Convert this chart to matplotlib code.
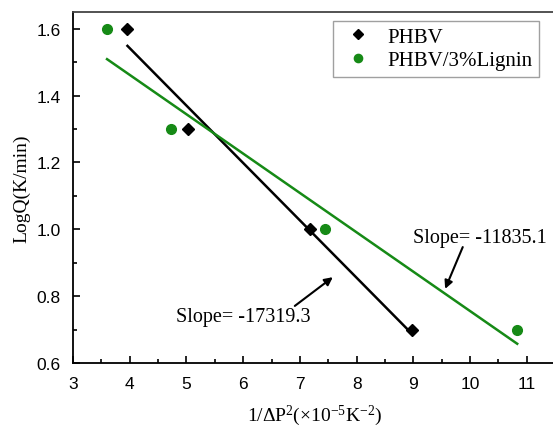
import numpy as np
import matplotlib
matplotlib.use("Agg")
import matplotlib.pyplot as plt
from matplotlib.ticker import MultipleLocator, FormatStrFormatter

# data
phbv_x = [3.96, 5.02, 7.18, 8.97]
phbv_y = [1.6, 1.3, 1.0, 0.7]
lig_x = [3.60, 4.73, 7.44, 10.83]
lig_y = [1.6, 1.3, 1.0, 0.7]
labels = ["PHBV", "PHBV/3%Lignin"]
slope_texts = ["Slope= -17319.3", "Slope= -11835.1"]

GREEN = "#168a16"
SERIF = "Liberation Serif"
plt.rcParams["mathtext.fontset"] = "custom"
plt.rcParams["mathtext.rm"] = SERIF
plt.rcParams["mathtext.it"] = SERIF

fig = plt.figure(figsize=(5.53, 4.35), dpi=100)
ax = fig.add_axes([0.132, 0.163, 0.872, 0.807])
ax.set_xlim(3, 11.5)
ax.set_ylim(0.6, 1.65)

# linear fits through the data, drawn over the data span
for xs, ys, c in [(phbv_x, phbv_y, "black"), (lig_x, lig_y, GREEN)]:
    k, b = np.polyfit(xs, ys, 1)
    xx = np.array([min(xs), max(xs)])
    ax.plot(xx, k * xx + b, color=c, lw=1.8, zorder=2)

ax.plot(phbv_x, phbv_y, "D", color="black", ms=6.5, ls="none", label=labels[0], zorder=3)
ax.plot(lig_x, lig_y, "o", color=GREEN, ms=7, ls="none", label=labels[1], zorder=3)

ax.xaxis.set_major_locator(MultipleLocator(1))
ax.xaxis.set_minor_locator(MultipleLocator(0.5))
ax.yaxis.set_major_locator(MultipleLocator(0.2))
ax.yaxis.set_minor_locator(MultipleLocator(0.1))
ax.yaxis.set_major_formatter(FormatStrFormatter("%.1f"))
ax.tick_params(which="both", direction="in", top=False, right=False,
               labelsize=12.5, width=1.2)
ax.tick_params(which="major", length=5)
ax.tick_params(which="minor", length=3)
ax.tick_params(axis="x", pad=9)
ax.tick_params(axis="y", pad=9)
for lab in ax.get_xticklabels() + ax.get_yticklabels():
    lab.set_fontfamily("Liberation Sans")
ax.spines["right"].set_visible(False)
for s in ["left", "bottom", "top"]:
    ax.spines[s].set_linewidth(1.3)
ax.spines["top"].set_color("#444444")

ax.set_xlabel(r"1/$\mathregular{\Delta}$P$^\mathregular{2}$($\times$10$^\mathregular{-5}$K$^\mathregular{-2}$)",
              fontsize=14, fontfamily=SERIF, labelpad=9)
ax.set_ylabel("LogQ(K/min)", fontsize=14, fontfamily=SERIF, labelpad=4)

leg = ax.legend(loc="upper right", bbox_to_anchor=(0.966, 0.975),
                borderaxespad=0,
                prop={"family": SERIF, "size": 15}, frameon=True,
                fancybox=False, edgecolor="#888888", handletextpad=0.5,
                borderpad=0.3, labelspacing=0.2, handlelength=1.8,
                markerscale=0.85)
leg.get_frame().set_linewidth(1.0)

arrow = dict(arrowstyle="-|>", color="black", lw=1.5, mutation_scale=12,
             shrinkA=0, shrinkB=0)
ax.text(4.81, 0.738, slope_texts[0], fontsize=14.5, fontfamily=SERIF, va="center")
ax.annotate("", xy=(7.58, 0.857), xytext=(6.91, 0.771), arrowprops=arrow)
ax.text(8.99, 0.977, slope_texts[1], fontsize=14.5, fontfamily=SERIF, va="center")
ax.annotate("", xy=(9.56, 0.822), xytext=(9.87, 0.947), arrowprops=arrow)

plt.savefig("out.png", dpi=100)
